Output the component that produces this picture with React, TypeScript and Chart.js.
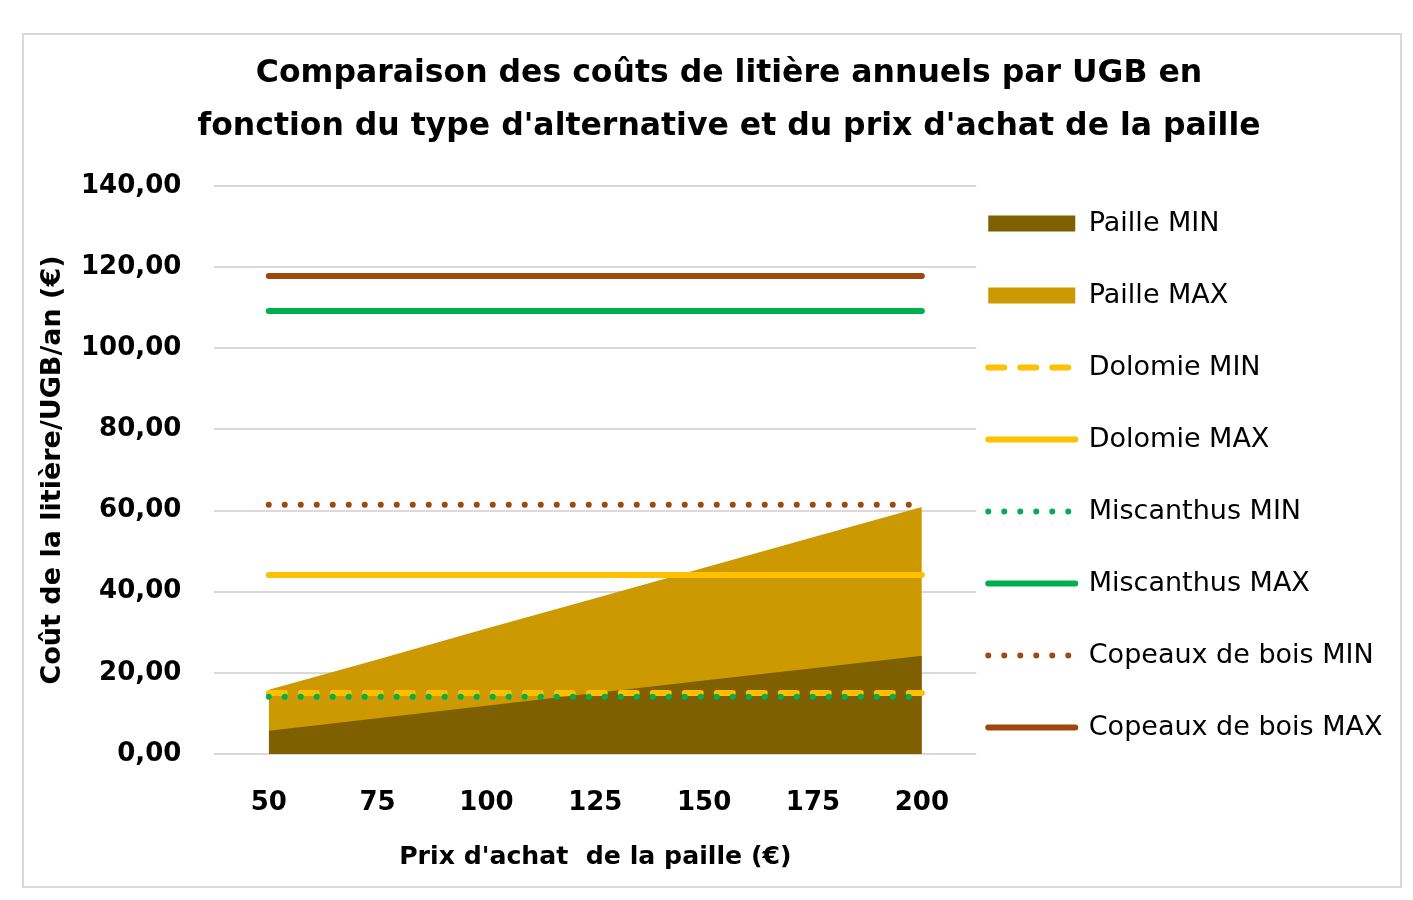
import React, { useEffect, useRef } from 'react';
import { Chart, registerables } from 'chart.js';

Chart.register(...registerables);

// ---- data ----
const prices = ['50', '75', '100', '125', '150', '175', '200'];
const pailleMin = [5.7, 8.8, 11.9, 15.0, 18.1, 21.1, 24.2];
const pailleMax = [15.8, 23.3, 30.9, 38.4, 45.9, 53.4, 60.9];
const dolomieMin = [15.0, 15.0, 15.0, 15.0, 15.0, 15.0, 15.0];
const dolomieMax = [44.1, 44.1, 44.1, 44.1, 44.1, 44.1, 44.1];
const miscanthusMin = [14.1, 14.1, 14.1, 14.1, 14.1, 14.1, 14.1];
const miscanthusMax = [109.2, 109.2, 109.2, 109.2, 109.2, 109.2, 109.2];
const copeauxMin = [61.4, 61.4, 61.4, 61.4, 61.4, 61.4, 61.4];
const copeauxMax = [117.8, 117.8, 117.8, 117.8, 117.8, 117.8, 117.8];
const yTicks = [0, 20, 40, 60, 80, 100, 120, 140];

const titleLines = [
  'Comparaison des coûts de litière annuels par UGB en',
  "fonction du type d'alternative et du prix d'achat de la paille",
];
const yTitle = 'Coût de la litière/UGB/an (€)';
const xTitle = "Prix d'achat  de la paille (€)";

const FONT = 'DejaVu Sans';

export default function App() {
  const canvasRef = useRef<HTMLCanvasElement | null>(null);

  useEffect(() => {
    if (!canvasRef.current) return;
    const lineBase = { fill: false, pointRadius: 0, borderWidth: 6, borderCapStyle: 'round' as const, tension: 0 };
    const areaBase = { fill: 'origin', pointRadius: 0, borderWidth: 0, tension: 0 };
    const kinds = ['area', 'area', 'line', 'line', 'line', 'line', 'line', 'line'];

    const chart = new Chart(canvasRef.current, {
      type: 'line',
      data: {
        labels: prices,
        datasets: [
          { ...areaBase, label: 'Paille MIN', data: pailleMin, backgroundColor: '#7F6000', borderColor: '#7F6000', order: 1 },
          { ...areaBase, label: 'Paille MAX', data: pailleMax, backgroundColor: '#CC9900', borderColor: '#CC9900', order: 2 },
          { ...lineBase, label: 'Dolomie MIN', data: dolomieMin, borderColor: '#FFC000', backgroundColor: '#FFC000', borderDash: [16, 16], order: 0 },
          { ...lineBase, label: 'Dolomie MAX', data: dolomieMax, borderColor: '#FFC000', backgroundColor: '#FFC000', order: 0 },
          { ...lineBase, label: 'Miscanthus MIN', data: miscanthusMin, borderColor: '#00B050', backgroundColor: '#00B050', borderDash: [0, 16], order: -1 },
          { ...lineBase, label: 'Miscanthus MAX', data: miscanthusMax, borderColor: '#00B050', backgroundColor: '#00B050', order: 0 },
          { ...lineBase, label: 'Copeaux de bois MIN', data: copeauxMin, borderColor: '#9E480E', backgroundColor: '#9E480E', borderDash: [0, 16], order: 0 },
          { ...lineBase, label: 'Copeaux de bois MAX', data: copeauxMax, borderColor: '#9E480E', backgroundColor: '#9E480E', order: 0 },
        ] as any,
      },
      options: {
        animation: false,
        responsive: true,
        maintainAspectRatio: false,
        devicePixelRatio: 1,
        layout: { padding: { left: 41.5, right: 7.5, top: 0, bottom: 0 } },
        plugins: {
          tooltip: { enabled: false },
          title: {
            display: true,
            text: titleLines,
            color: '#000',
            font: { family: FONT, size: 31.5, weight: 'bold', lineHeight: '53px' },
            padding: { top: 12.5, bottom: 32.5 },
          },
          legend: {
            position: 'right',
            align: 'start',
            maxWidth: 430,
            title: { display: true, text: '', font: { size: 10, lineHeight: '163px' }, padding: 0 },
            labels: {
              usePointStyle: true,
              pointStyleWidth: 87,
              boxWidth: 87,
              boxHeight: 16,
              padding: 12,
              color: '#000',
              font: { family: FONT, size: 27, lineHeight: '60px' },
              sort: (a: any, b: any) => a.datasetIndex - b.datasetIndex,
              generateLabels: (c: any) => {
                const items = (Chart.defaults.plugins.legend.labels as any).generateLabels(c);
                return items.map((it: any) => {
                  const ds = c.data.datasets[it.datasetIndex];
                  const isArea = kinds[it.datasetIndex] === 'area';
                  return {
                    ...it,
                    text: [it.text],
                    pointStyle: isArea ? 'rect' : 'line',
                    fillStyle: ds.backgroundColor,
                    strokeStyle: ds.borderColor,
                    lineWidth: isArea ? 0 : ds.borderWidth,
                    lineDash: ds.borderDash || [],
                    lineCap: ds.borderCapStyle || 'butt',
                  };
                });
              },
            },
          },
        },
        scales: {
          x: {
            offset: true,
            grid: { display: false, drawTicks: false },
            border: { display: false },
            ticks: { color: '#000', padding: 33.4, font: { family: FONT, size: 26, weight: 'bold' } },
            title: {
              display: true,
              text: xTitle,
              color: '#000',
              font: { family: FONT, size: 25.2, weight: 'bold', lineHeight: 1.2 },
              padding: { top: -10.1, bottom: 13.9 },
            },
          },
          y: {
            min: yTicks[0],
            max: yTicks[yTicks.length - 1],
            afterBuildTicks: (s: any) => { s.ticks = yTicks.map((v) => ({ value: v })); },
            grid: { color: '#D9D9D9', lineWidth: 2, drawTicks: false },
            border: { display: false },
            ticks: {
              color: '#000',
              padding: 33,
              font: { family: FONT, size: 26, weight: 'bold' },
              callback: (v: any) => Number(v).toFixed(2).replace('.', ','),
            },
            title: {
              display: true,
              text: yTitle,
              color: '#000',
              font: { family: FONT, size: 27, weight: 'bold', lineHeight: 1.2 },
              padding: { top: -28.7, bottom: -21.2 },
            },
          },
        },
      } as any,
    });
    return () => chart.destroy();
  }, []);

  return (
    <div
      style={{
        position: 'absolute',
        left: 22,
        top: 33,
        width: 1376,
        height: 851,
        border: '2px solid #D9D9D9',
        background: '#fff',
      }}
    >
      <div style={{ position: 'relative', width: 1376, height: 851 }}>
        <canvas ref={canvasRef} />
      </div>
    </div>
  );
}
